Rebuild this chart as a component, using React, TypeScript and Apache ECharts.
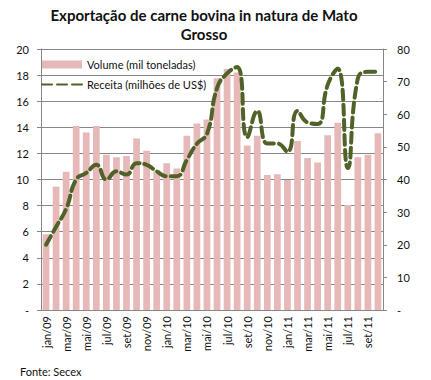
import React, { useEffect, useRef } from "react";
import * as echarts from "echarts";

const categories = [
  "jan/09", "fev/09", "mar/09", "abr/09", "mai/09", "jun/09", "jul/09", "ago/09", "set/09", "out/09", "nov/09", "dez/09",
  "jan/10", "fev/10", "mar/10", "abr/10", "mai/10", "jun/10", "jul/10", "ago/10", "set/10", "out/10", "nov/10", "dez/10",
  "jan/11", "fev/11", "mar/11", "abr/11", "mai/11", "jun/11", "jul/11", "ago/11", "set/11", "out/11",
];

const volume = [
  5.8, 9.45, 10.6, 14.1, 13.6, 14.1, 11.9, 11.7, 11.8, 13.15, 12.2, 10.7,
  11.25, 10.85, 13.35, 14.3, 14.6, 17.75, 18.47, 18.2, 12.6, 13.36, 10.35, 10.4,
  9.96, 12.95, 11.65, 11.3, 13.4, 14.35, 8.05, 11.7, 11.9, 13.55,
];

const receita = [
  20, 25.5, 31, 40, 42, 44.5, 40, 42.5, 41.5, 45, 44.5, 42.5,
  41, 41, 46, 51, 54, 68, 72.5, 74.5, 53, 61, 51, 51,
  48.5, 61, 57.5, 57, 69, 74, 43.5, 71, 73, 73,
];

const titleLines = ["Exportação de carne bovina in natura de Mato", "Grosso"];
const seriesNames = ["Volume (mil toneladas)", "Receita (milhões de US$)"];
const sourceText = "Fonte: Secex";

const FONT = "Lato, 'Open Sans', sans-serif";

export default function App() {
  const ref = useRef<HTMLDivElement>(null);
  useEffect(() => {
    if (!ref.current) return;
    const chart = echarts.init(ref.current, undefined, { renderer: "svg" });
    const axisLabelStyle = { color: "#111", fontSize: 11, fontFamily: FONT };
    const grey = "#868686";
    chart.setOption({
      animation: false,
      textStyle: { fontFamily: FONT },
      graphic: [
        {
          type: "text",
          x: 204,
          y: 15,
          style: {
            text: titleLines[0],
            textAlign: "center",
            textVerticalAlign: "middle",
            font: `bold 15px ${FONT}`,
            fill: "#111",
          },
        },
        {
          type: "text",
          x: 204,
          y: 34,
          style: {
            text: titleLines[1],
            textAlign: "center",
            textVerticalAlign: "middle",
            font: `bold 15px ${FONT}`,
            fill: "#111",
          },
        },
        {
          type: "text",
          x: 20,
          y: 371,
          style: {
            text: sourceText,
            textAlign: "left",
            textVerticalAlign: "middle",
            font: `11px ${FONT}`,
            fill: "#111",
          },
        },
      ],
      grid: { left: 41, right: 48, top: 49, bottom: 70, containLabel: false },
      legend: {
        orient: "vertical",
        left: 41,
        top: 59,
        padding: 0,
        itemWidth: 40,
        itemHeight: 8,
        itemGap: 9,
        textStyle: { color: "#111", fontSize: 11, fontFamily: FONT },
        data: [
          { name: seriesNames[0], icon: "rect" },
          { name: seriesNames[1], itemStyle: { opacity: 0 } },
        ],
      },
      xAxis: {
        type: "category",
        data: categories,
        boundaryGap: true,
        axisLine: { lineStyle: { color: grey } },
        axisTick: { interval: 1, length: 4, lineStyle: { color: grey } },
        axisLabel: { ...axisLabelStyle, interval: 1, rotate: 90, margin: 6 },
      },
      yAxis: [
        {
          type: "value",
          min: 0,
          max: 20,
          interval: 2,
          axisLine: { show: true, lineStyle: { color: grey } },
          axisTick: { show: true, length: 4, lineStyle: { color: grey } },
          splitLine: { lineStyle: { color: grey, width: 1 } },
          axisLabel: {
            ...axisLabelStyle,
            margin: 12,
            formatter: (v: number) => (v === 0 ? "-" : String(v)),
          },
        },
        {
          type: "value",
          min: 0,
          max: 80,
          interval: 10,
          axisLine: { show: true, lineStyle: { color: grey } },
          axisTick: { show: true, length: 4, lineStyle: { color: grey } },
          splitLine: { show: false },
          axisLabel: {
            ...axisLabelStyle,
            margin: 14,
            formatter: (v: number) => (v === 0 ? "-" : String(v)),
          },
        },
      ],
      series: [
        {
          name: seriesNames[0],
          type: "bar",
          data: volume,
          yAxisIndex: 0,
          barCategoryGap: "33%",
          itemStyle: { color: "#E6B9B8" },
        },
        {
          name: seriesNames[1],
          type: "line",
          data: receita,
          yAxisIndex: 1,
          smooth: 0.5,
          symbol: "none",
          lineStyle: { color: "#4F6228", width: 4, type: [10, 5], cap: "round" },
          itemStyle: { color: "#4F6228" },
        },
      ],
    });
    return () => chart.dispose();
  }, []);
  return (
    <div
      ref={ref}
      style={{ position: "absolute", left: 0, top: 0, width: 431, height: 380, background: "#fff" }}
    />
  );
}
